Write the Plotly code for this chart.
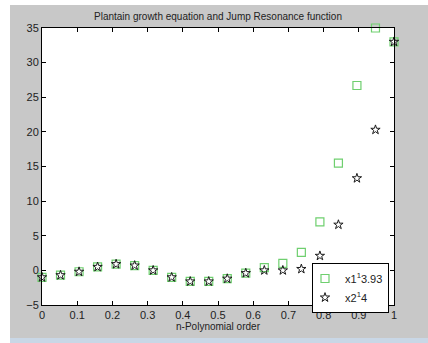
import plotly.graph_objects as go

x_vals = [0.0, 0.0526, 0.1053, 0.1579, 0.2105, 0.2632, 0.3158, 0.3684, 0.4211, 0.4737,
          0.5263, 0.5789, 0.6316, 0.6842, 0.7368, 0.7895, 0.8421, 0.8947, 0.9474, 1.0]
x1_vals = [-1.0, -0.7, -0.2, 0.5, 0.9, 0.7, 0.0, -1.0, -1.6, -1.6,
           -1.2, -0.4, 0.4, 1.0, 2.6, 7.0, 15.5, 26.7, 35.0, 33.0]
x2_vals = [-1.0, -0.7, -0.2, 0.5, 0.9, 0.7, 0.0, -1.0, -1.6, -1.6,
           -1.2, -0.4, 0.0, 0.0, 0.2, 2.1, 6.6, 13.3, 20.3, 33.0]
series_names = ["x1<sup>1</sup>3.93", "x2<sup>1</sup>4"]
x_ticks = [0, 0.1, 0.2, 0.3, 0.4, 0.5, 0.6, 0.7, 0.8, 0.9, 1]
x_tick_text = ["0", "0.1", "0.2", "0.3", "0.4", "0.5", "0.6", "0.7", "0.8", "0.9", "1"]
y_ticks = [-5, 0, 5, 10, 15, 20, 25, 30, 35]

W, H = 428, 343
L, R, T, B = 42, 34, 28, 38
pw, ph = W - L - R, H - T - B
FONT = "Liberation Sans, Arial"

fig = go.Figure()
fig.add_trace(go.Scatter(
    x=x_vals, y=x1_vals, mode="markers", name=series_names[0],
    marker=dict(symbol="square-open", size=8, color="#6fcf6f", line=dict(width=1.2)),
    cliponaxis=False))
fig.add_trace(go.Scatter(
    x=x_vals, y=x2_vals, mode="markers", name=series_names[1],
    marker=dict(symbol="star-open", size=7, color="#1a1a1a", line=dict(width=1)),
    cliponaxis=False))

def px_x(p):
    return (p - L) / pw

def px_y(p):
    return (H - B - p) / ph

shapes = [
    dict(type="rect", xref="paper", yref="paper", x0=px_x(0), x1=px_x(W), y0=px_y(0), y1=px_y(5),
         fillcolor="white", line=dict(width=0), layer="below"),
    dict(type="rect", xref="paper", yref="paper", x0=px_x(0), x1=px_x(10), y0=px_y(0), y1=px_y(H),
         fillcolor="white", line=dict(width=0), layer="below"),
    dict(type="rect", xref="paper", yref="paper", x0=px_x(10), x1=px_x(W), y0=px_y(338), y1=px_y(H),
         fillcolor="#c9d7e6", line=dict(width=0), layer="below"),
]

axis_common = dict(showline=True, linecolor="black", linewidth=1, mirror="allticks",
                   ticks="inside", ticklen=4, tickcolor="black", showgrid=False, zeroline=False,
                   automargin=False,
                   tickfont=dict(family=FONT, size=11, color="#222"))

fig.update_layout(
    width=W, height=H,
    margin=dict(l=L, r=R, t=T, b=B, autoexpand=False),
    paper_bgcolor="#c8c8c8", plot_bgcolor="white",
    title=dict(text="Plantain growth equation and Jump Resonance function",
               x=218 / W, xanchor="center", y=1 - 16 / H, yanchor="middle",
               font=dict(family=FONT, size=10, color="#222")),
    xaxis=dict(range=[0, 1], tickvals=x_ticks, ticktext=x_tick_text,
               title=dict(text="n-Polynomial order", standoff=2,
                          font=dict(family=FONT, size=10, color="#222")),
               **axis_common),
    yaxis=dict(range=[-5, 35], tickvals=y_ticks, **axis_common),
    legend=dict(x=px_x(312), y=px_y(263), xanchor="left", yanchor="top",
                bgcolor="white", bordercolor="black", borderwidth=1,
                font=dict(family=FONT, size=11, color="#222"),
                itemwidth=30, tracegroupgap=0, indentation=-8),
    shapes=shapes,
    showlegend=True,
)

fig.write_html("out.html", config={"displayModeBar": False},
               post_script="document.body.style.margin='0';document.body.style.padding='0';")
